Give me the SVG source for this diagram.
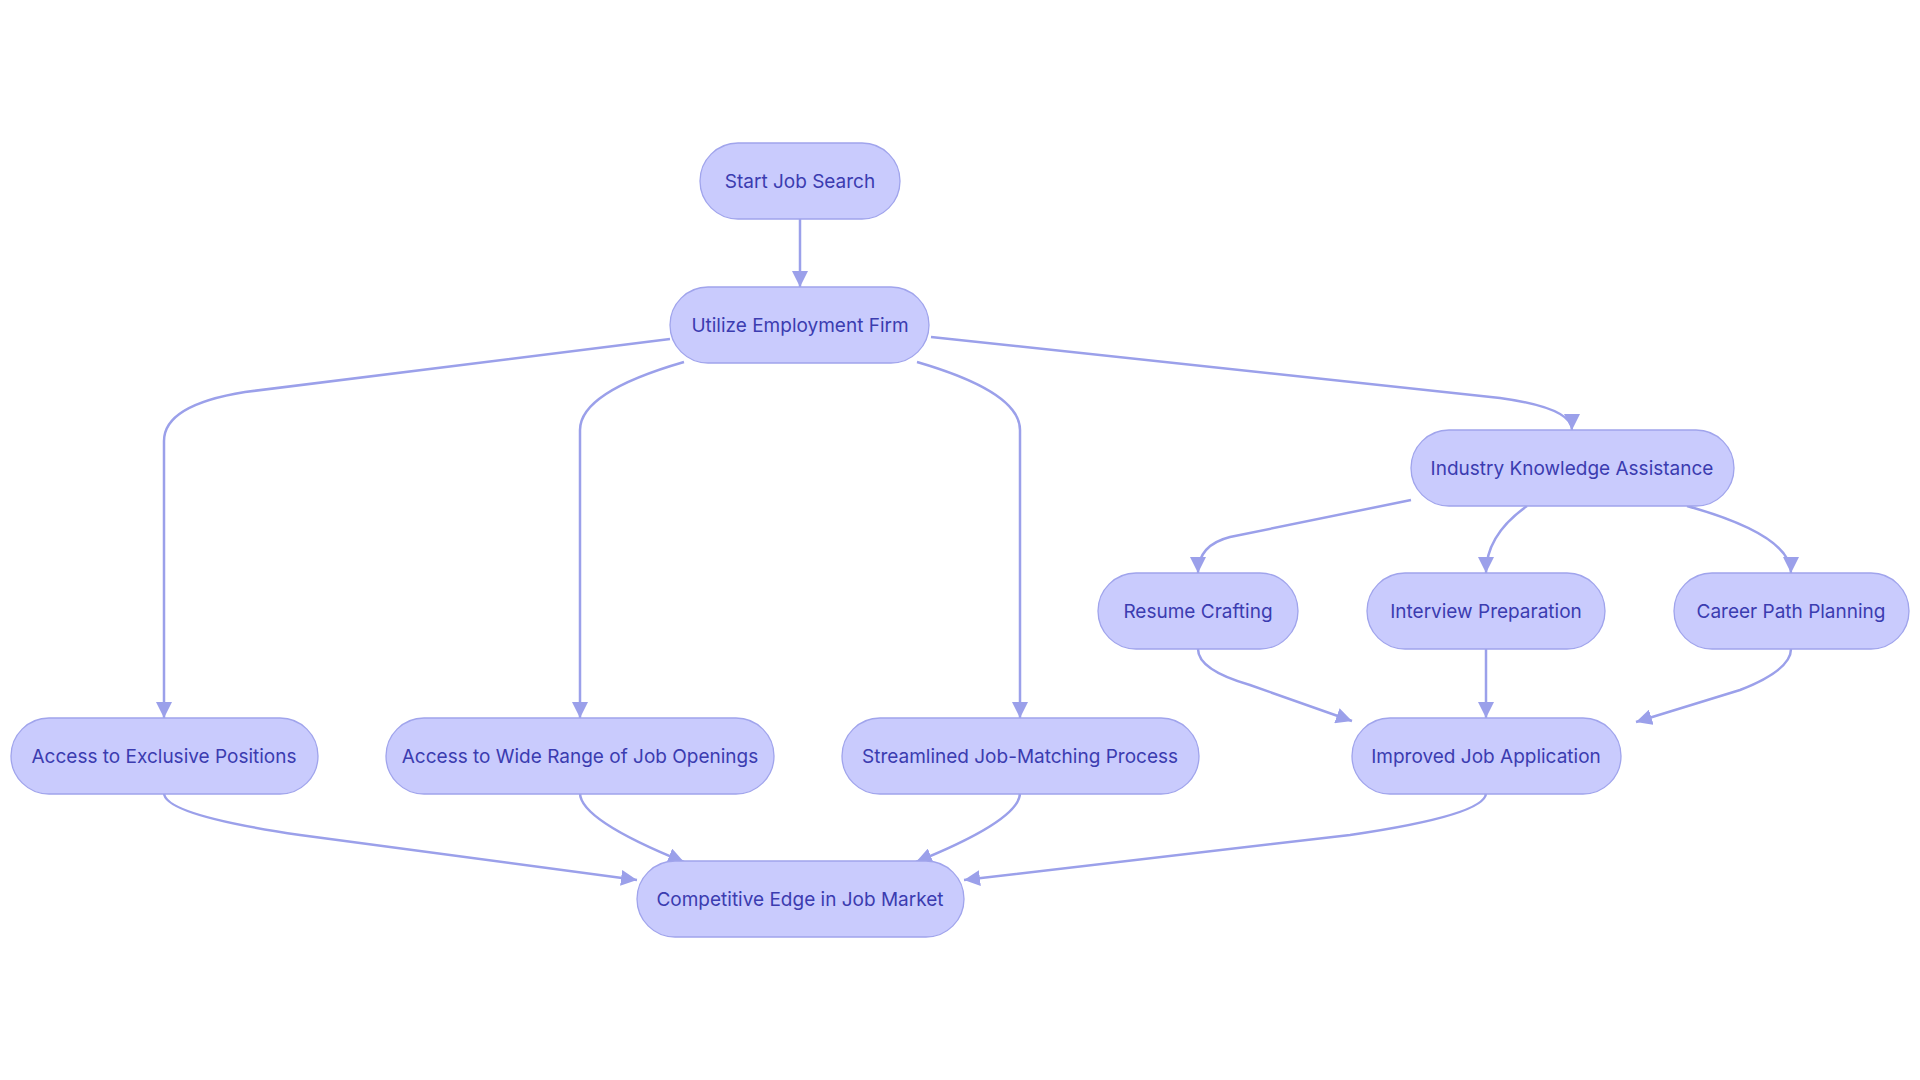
<svg xmlns="http://www.w3.org/2000/svg" width="1920" height="1080" viewBox="0 0 1920 1080">
<style>
.n rect{fill:#c9cbfd;stroke:#a0a4ec;stroke-width:1.3}
.n text{font-family:Inter,"Noto Sans",sans-serif;font-size:19px;fill:#3b3cb0;text-anchor:middle;dominant-baseline:central}
.e path{fill:none;stroke:#9ba0ea;stroke-width:2.5;marker-end:url(#a)}
</style>
<defs><marker id="a" markerUnits="userSpaceOnUse" viewBox="0 0 10 10" refX="10" refY="5" markerWidth="16" markerHeight="16" orient="auto"><path d="M0,0L10,5L0,10z" fill="#9ba0ea"/></marker></defs>
<rect width="1920" height="1080" fill="#fff"/>
<g class="e">
<path d="M800,219 L800,287"/>
<path d="M670,339 L245,392 Q164,405 164,441 L164,718"/>
<path d="M684,362 Q580,392 580,430 L580,718"/>
<path d="M917,362 Q1020,392 1020,430 L1020,718"/>
<path d="M931,337 L1500,398 Q1572,408 1572,430"/>
<path d="M1411,500 L1230,537 Q1198,545 1198,573"/>
<path d="M1527,506 Q1486,535 1486,573"/>
<path d="M1687,506 Q1791,535 1791,573"/>
<path d="M1198,649 Q1198,670 1250,685 L1352,721"/>
<path d="M1486,649 L1486,718"/>
<path d="M1791,649 Q1791,670 1740,690 L1636,722"/>
<path d="M164,793 Q164,815 300,835 L637,880"/>
<path d="M580,793 Q580,820 684,862"/>
<path d="M1020,793 Q1020,820 916,862"/>
<path d="M1486,793 Q1486,815 1350,835 L964,880"/>
</g>
<g id="start" class="n"><rect x="700" y="143" width="200" height="76" rx="38"/><text x="800" y="181">Start Job Search</text></g>
<g id="utilize" class="n"><rect x="670" y="287" width="259" height="76" rx="38"/><text x="800" y="325">Utilize Employment Firm</text></g>
<g id="industry" class="n"><rect x="1411" y="430" width="323" height="76" rx="38"/><text x="1572" y="468">Industry Knowledge Assistance</text></g>
<g id="resume" class="n"><rect x="1098" y="573" width="200" height="76" rx="38"/><text x="1198" y="611">Resume Crafting</text></g>
<g id="interview" class="n"><rect x="1367" y="573" width="238" height="76" rx="38"/><text x="1486" y="611">Interview Preparation</text></g>
<g id="career" class="n"><rect x="1674" y="573" width="235" height="76" rx="38"/><text x="1791" y="611">Career Path Planning</text></g>
<g id="exclusive" class="n"><rect x="11" y="718" width="307" height="76" rx="38"/><text x="164" y="756">Access to Exclusive Positions</text></g>
<g id="wide" class="n"><rect x="386" y="718" width="388" height="76" rx="38"/><text x="580" y="756">Access to Wide Range of Job Openings</text></g>
<g id="streamlined" class="n"><rect x="842" y="718" width="357" height="76" rx="38"/><text x="1020" y="756">Streamlined Job-Matching Process</text></g>
<g id="improved" class="n"><rect x="1352" y="718" width="269" height="76" rx="38"/><text x="1486" y="756">Improved Job Application</text></g>
<g id="competitive" class="n"><rect x="637" y="861" width="327" height="76" rx="38"/><text x="800" y="899">Competitive Edge in Job Market</text></g>
</svg>
